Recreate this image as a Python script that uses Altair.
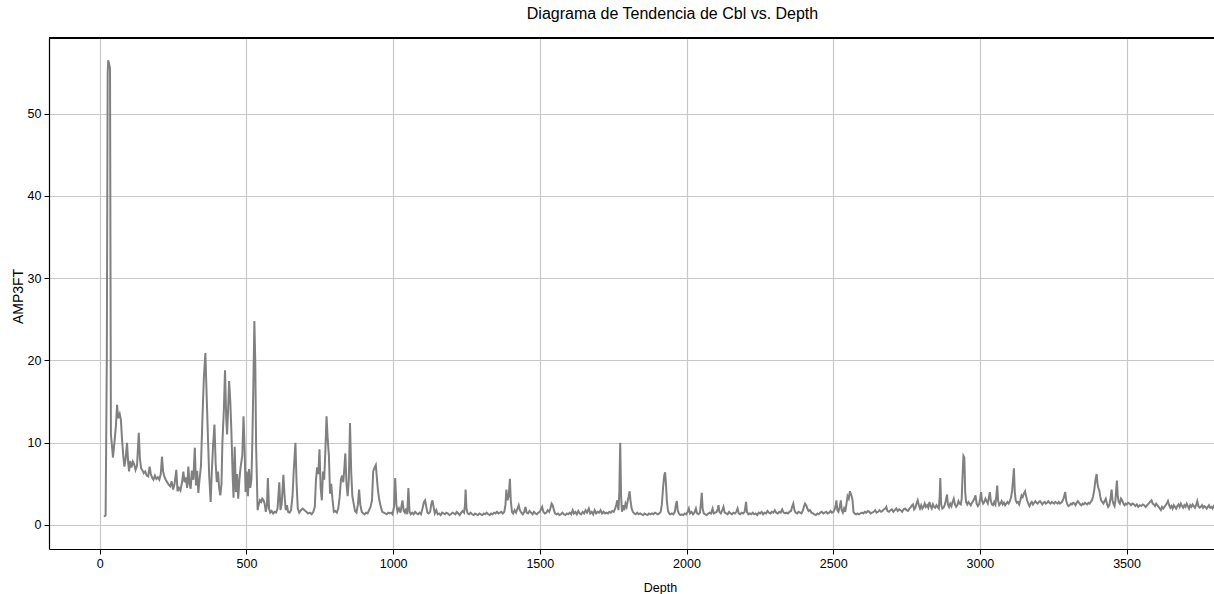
import altair as alt
import pandas as pd

# (Depth, AMP3FT) readings, grouped by depth interval
seg_a = [(15,1.0),(20,1.2),(24,20),(27,55),(29,56.5),(32,56),(35,55.5),(38,11),(42,9.5),(45,8.2),(50,10),(55,12),(59,14.6),(63,13),(68,13.5),(72,12.8),(76,10.4),(80,8.5),(84,7.1),(88,8.0),(93,10),(97,7.5),(100,6.5),(104,7.8),(108,7.0),(113,7.7),(118,7.3),(122,6.7),(127,7.2),(133,11.2),(137,8.0),(141,6.9),(146,6.6),(150,6.3),(155,6.5),(160,6.0),(165,5.9),(170,7.1),(174,6.2),(178,5.8),(183,5.5),(188,6.0),(193,5.6),(198,5.8),(203,5.5),(208,6.2),(212,8.3),(216,6.5),(220,5.9),(225,5.5),(230,5.2),(235,4.9),(240,4.7),(245,5.3),(250,4.3),(255,5.0),(261,6.7),(265,4.1),(270,4.5),(275,4.2),(280,5.1),(285,6.5),(289,5.2),(293,5.8),(298,4.5),(302,7.1),(306,5.0),(310,4.4),(314,6.6),(319,5.5),(324,9.4),(328,4.8),(332,6.6),(336,3.9),(340,5.5),(345,7.2),(350,13),(355,18),(360,20.9),(365,15),(369,10.4),(373,6),(378,2.8),(382,6.5),(386,9.5),(391,12.2),(395,7.5),(399,5.2),(403,6.5),(407,4.5),(411,3.6),(415,5),(418,10),(423,14),(427,18.8),(431,13),(434,11),(438,14.5),(441,17.5),(445,15),(449,11),(453,6),(456,3.3),(460,9.5),(464,4.0),(468,6.2),(472,3.2),(476,5.5),(480,7.0),(486,8.5),(490,13.2),(494,9),(497,4.0),(501,6.5),(505,3.5),(509,6.8),(513,4.5),(517,5.5),(520,10),(524,18),(527,24.8),(530,20),(533,9.5),(536,5)]
seg_b = [(538,1.8),(542,2.5),(546,3.0),(550,2.8),(554,3.2),(558,3.0),(562,2.6),(566,1.6),(570,2.4),(573,5.7),(577,2.0),(581,1.5),(586,1.7),(591,1.4),(596,1.6),(601,1.5),(606,2.0),(612,5.2),(616,1.8),(620,2.5),(626,6.1),(630,3.5),(634,1.8),(638,2.4),(642,1.6),(647,1.5),(652,1.8),(657,3.5),(661,6.5),(667,10.0),(671,5.0),(675,2.0),(680,1.5),(686,1.8),(692,2.0),(698,1.8),(704,1.6),(710,1.4),(716,1.5),(722,1.3),(728,1.6),(733,2.2),(737,5.5),(741,7.0),(745,6.2),(749,9.2),(753,4.5),(757,3.0),(761,6.5),(765,5.5),(769,9),(773,13.2),(777,10.4),(781,8.5),(785,3.8),(789,5.0),(793,3.2),(798,1.6),(803,1.7),(808,1.5),(813,2.0),(818,3.5),(822,5.5),(826,6.0),(830,5.2),(834,7.0),(837,8.7),(841,5.0),(845,3.5),(849,5.5),(853,12.4),(857,6.5),(861,3.5),(866,2.5),(870,1.7),(875,1.5),(880,2.5),(884,4.3),(888,2.5),(893,1.6),(898,1.4),(903,1.3),(908,1.5),(913,1.4),(918,1.8),(923,2.2),(928,3.0),(932,6.5),(937,7.0),(941,7.3),(945,5.5),(949,4.0),(953,3.0),(958,2.2),(963,1.6),(968,1.5),(973,1.4),(978,1.3),(983,1.5),(988,1.4),(993,1.5),(998,1.3),(1003,2.2),(1007,5.7),(1011,2.5),(1015,1.6),(1020,2.0),(1025,1.5),(1029,2.4),(1032,3.0),(1036,1.7),(1040,1.5),(1044,2.0),(1048,1.3),(1052,4.5),(1056,1.6),(1060,1.3)]
seg_c = [(1065,1.5),(1070,1.3),(1075,1.6),(1080,1.4),(1085,1.3),(1090,1.5),(1095,1.3),(1100,2.0),(1105,2.8),(1109,3.0),(1113,2.2),(1117,1.5),(1121,1.4),(1126,1.6),(1130,2.5),(1134,3.0),(1138,2.2),(1142,1.4),(1147,1.8),(1152,1.3),(1157,1.4),(1162,1.2),(1167,1.5),(1172,1.4),(1177,1.3),(1182,1.5),(1187,1.4),(1192,1.2),(1197,1.3),(1202,1.5),(1207,1.4),(1212,1.3),(1217,1.6),(1222,1.4),(1227,1.2),(1232,1.5),(1237,1.7),(1242,1.5),(1245,2.5),(1247,4.3),(1250,2.0),(1254,1.4),(1259,1.3),(1264,1.5),(1269,1.3),(1274,1.2),(1279,1.4),(1284,1.3),(1289,1.2),(1294,1.4),(1299,1.3),(1304,1.2),(1309,1.4),(1314,1.3),(1319,1.5),(1324,1.3),(1329,1.2),(1334,1.4),(1339,1.3),(1344,1.5),(1349,1.4),(1354,1.6),(1359,1.4),(1364,1.5),(1369,1.6),(1374,1.4),(1379,1.6),(1383,2.5),(1386,4.3),(1390,3.0),(1394,3.5),(1398,5.6),(1401,3.0),(1405,1.6),(1409,1.4),(1414,1.8),(1419,1.5),(1424,2.0),(1428,2.4),(1432,1.8),(1437,1.5),(1442,1.3),(1447,1.6),(1451,2.2),(1455,1.5),(1460,1.4),(1465,1.7),(1470,1.5),(1475,1.3),(1480,1.6),(1485,1.4),(1490,1.3),(1495,1.5),(1500,1.6),(1505,2.0),(1508,2.2),(1512,1.6),(1517,1.4),(1522,1.5),(1527,1.8),(1532,1.6),(1536,2.0),(1540,2.6),(1544,2.4),(1548,1.8),(1552,1.4),(1557,1.3),(1562,1.4),(1567,1.2),(1572,1.3),(1577,1.5),(1582,1.3),(1587,1.2),(1592,1.4),(1597,1.3),(1602,1.5),(1607,1.3),(1612,1.8),(1616,1.4),(1621,1.6),(1626,1.3),(1631,1.7),(1636,1.4),(1641,1.3),(1646,1.6),(1651,1.4),(1656,1.8),(1661,1.5),(1667,2.0),(1672,1.4),(1677,1.6),(1682,1.3),(1687,1.8),(1692,1.4),(1697,1.6),(1702,1.5),(1707,1.8),(1712,1.4),(1717,1.6),(1722,1.4),(1727,1.5),(1732,1.4),(1737,1.6),(1742,1.5),(1747,1.7),(1752,1.6),(1757,2.0),(1761,2.5),(1764,3.0),(1768,1.8),(1771,4),(1774,10.0),(1777,3.5),(1780,1.6),(1784,2.4),(1788,1.8),(1792,2.6),(1796,2.2),(1800,3.0),(1803,3.5),(1806,4.1),(1809,3.0),(1813,2.0),(1817,1.6)]
seg_d = [(1822,1.4),(1827,1.3),(1832,1.5),(1837,1.3),(1842,1.4),(1847,1.3),(1852,1.2),(1857,1.4),(1862,1.3),(1867,1.2),(1872,1.4),(1877,1.3),(1882,1.4),(1887,1.3),(1892,1.5),(1897,1.4),(1902,1.3),(1907,1.4),(1912,1.6),(1916,2.5),(1920,4.5),(1924,6.0),(1927,6.4),(1930,5.0),(1933,3.0),(1937,1.7),(1941,1.4),(1945,1.3),(1950,1.4),(1955,1.3),(1960,1.6),(1964,2.5),(1967,2.9),(1970,1.8),(1974,1.4),(1979,1.2),(1984,1.3),(1989,1.2),(1994,1.4),(1999,1.3),(2004,1.6),(2008,2.0),(2012,1.4),(2017,1.6),(2022,1.3),(2027,1.5),(2032,2.0),(2036,1.4),(2041,1.3),(2046,1.5),(2050,3.0),(2052,3.9),(2055,2.0),(2059,1.4),(2064,1.3),(2069,1.2),(2074,1.4),(2079,1.5),(2084,1.4),(2089,2.0),(2093,1.4),(2098,1.5),(2103,1.6),(2107,2.0),(2109,2.4),(2112,1.6),(2117,1.4),(2122,1.8),(2126,2.2),(2130,1.5),(2135,1.4),(2140,1.3),(2145,1.6),(2150,1.4),(2155,1.3),(2160,1.5),(2165,1.4),(2170,1.6),(2174,2.0),(2178,1.4),(2183,1.3),(2188,1.5),(2193,1.4),(2198,1.6),(2201,2.3),(2203,2.8),(2206,1.6),(2211,1.3),(2216,1.4),(2221,1.3),(2226,1.5),(2231,1.3),(2236,1.4),(2241,1.2),(2246,1.5),(2251,1.4),(2256,1.6),(2261,1.3),(2266,1.5),(2271,1.4),(2276,1.7),(2281,1.5),(2286,1.4),(2291,1.6),(2296,1.5),(2301,1.8),(2306,1.5),(2311,1.4),(2316,1.6),(2321,1.5),(2326,1.9),(2331,1.5),(2336,1.4),(2341,1.5),(2346,1.4),(2351,1.6),(2356,1.7),(2360,2.2),(2364,2.6),(2368,1.8),(2372,1.5),(2377,1.4),(2382,1.6),(2387,1.5),(2392,1.4),(2397,1.8),(2401,2.3),(2404,2.6),(2408,2.4),(2412,2.0),(2416,1.7),(2421,1.8),(2426,1.5),(2431,1.4),(2436,1.3),(2441,1.2),(2446,1.4),(2451,1.3),(2456,1.5),(2461,1.6),(2466,1.4),(2471,1.5),(2476,1.6),(2481,1.4),(2486,1.5),(2491,1.7),(2496,1.5),(2501,1.6),(2506,2.0),(2509,2.5),(2511,3.0),(2514,1.8),(2518,1.6),(2522,2.2),(2526,3.0),(2529,1.8),(2533,1.5),(2537,2.0),(2541,1.6),(2545,2.5),(2549,3.5),(2553,3.2),(2557,4.1),(2560,3.8),(2563,3.5),(2566,3.0),(2569,1.6)]
seg_e = [(2573,1.4),(2578,1.3),(2583,1.4),(2588,1.3),(2593,1.4),(2598,1.5),(2603,1.4),(2608,1.6),(2613,1.5),(2618,1.7),(2623,1.6),(2628,1.4),(2633,1.5),(2638,1.6),(2643,1.8),(2648,1.5),(2653,1.6),(2658,1.8),(2663,1.6),(2668,1.7),(2673,1.9),(2678,2.0),(2681,2.2),(2685,1.7),(2690,1.6),(2695,1.8),(2700,1.9),(2705,1.6),(2710,1.8),(2715,2.0),(2720,1.7),(2725,1.9),(2730,1.8),(2735,1.6),(2740,1.9),(2745,2.0),(2750,1.8),(2755,1.7),(2760,2.0),(2765,2.2),(2769,2.4),(2772,2.5),(2776,1.9),(2780,2.1),(2784,2.6),(2788,3.0),(2792,2.4),(2796,2.0),(2800,2.4),(2804,2.0),(2808,2.2),(2812,2.6),(2816,2.2),(2820,2.4),(2824,2.1),(2828,2.8),(2832,2.3),(2836,2.0),(2840,2.5),(2844,2.2),(2848,2.1),(2852,2.4),(2856,2.2),(2860,2.0),(2863,3.5),(2865,5.7),(2868,2.5),(2872,2.0),(2876,2.1),(2880,2.4),(2884,3.0),(2888,3.7),(2891,2.5),(2895,2.2),(2899,2.6),(2903,2.3),(2907,2.8),(2911,3.2),(2915,2.5),(2919,2.2),(2923,2.4),(2927,2.9),(2931,2.6),(2935,2.5),(2938,3.2),(2941,6.0),(2944,8.4),(2947,8.2),(2950,4.0),(2953,2.8),(2957,2.5),(2961,2.8),(2965,2.6),(2969,2.4),(2973,2.7),(2977,2.9),(2981,3.2),(2985,3.6),(2989,2.6),(2993,2.3),(2997,2.5),(3001,3.2),(3004,4.0),(3007,3.0),(3011,2.6),(3015,2.8),(3019,3.2),(3023,2.9),(3027,2.6),(3031,3.4),(3034,4.0),(3037,3.0),(3041,2.5),(3045,2.4),(3049,2.8),(3053,2.5),(3056,3.5),(3059,4.8),(3062,3.0),(3066,2.4),(3070,2.6),(3074,2.9),(3078,2.5),(3082,2.7),(3086,2.4),(3090,2.6),(3094,2.8),(3098,2.6),(3102,2.9),(3106,3.3),(3110,4.2),(3113,5.5),(3116,6.9),(3119,4.0),(3122,3.0),(3126,2.7),(3130,2.8),(3134,2.5),(3138,3.0),(3142,3.6),(3146,3.4),(3150,3.8),(3154,4.1),(3157,3.6),(3161,3.0),(3165,2.6),(3169,2.3)]
seg_f = [(3173,2.6),(3177,2.8),(3181,2.5),(3185,2.7),(3189,2.9),(3193,2.7),(3197,2.6),(3201,2.8),(3205,2.9),(3209,2.7),(3213,2.5),(3217,2.7),(3221,2.8),(3225,2.6),(3229,2.7),(3233,2.9),(3237,2.7),(3241,2.6),(3245,2.8),(3249,2.7),(3253,2.6),(3257,2.8),(3261,2.7),(3265,2.6),(3269,2.8),(3273,2.6),(3277,2.7),(3281,2.9),(3285,3.2),(3288,3.6),(3291,4.0),(3294,3.0),(3298,2.5),(3302,2.3),(3306,2.4),(3310,2.6),(3314,2.5),(3318,2.7),(3322,2.6),(3326,2.4),(3330,2.7),(3334,2.9),(3338,2.7),(3342,2.5),(3346,2.4),(3350,2.6),(3354,2.5),(3358,2.7),(3362,2.6),(3366,2.5),(3370,2.7),(3374,2.6),(3378,2.8),(3382,3.0),(3386,3.5),(3390,4.3),(3394,5.5),(3398,6.2),(3401,5.0),(3404,4.5),(3407,4.2),(3410,3.5),(3413,3.0),(3417,2.8),(3421,2.6),(3425,2.9),(3429,3.2),(3433,2.6),(3437,2.2),(3441,2.4),(3445,3.2),(3449,4.3),(3452,3.0),(3455,2.6),(3459,2.3),(3462,3.0),(3465,4.5),(3467,5.4),(3470,3.5),(3473,2.8),(3477,2.6),(3481,3.2),(3485,3.0),(3489,2.6),(3493,2.4),(3497,2.6),(3501,2.5),(3505,2.7),(3510,2.6),(3515,2.4),(3520,2.6),(3525,2.5),(3530,2.3),(3535,2.5),(3540,2.2),(3545,2.4),(3550,2.3),(3555,2.5),(3560,2.4),(3565,2.2),(3570,2.4),(3575,2.6),(3580,2.8),(3585,3.0),(3589,2.6),(3593,2.5),(3597,2.3),(3601,2.6),(3605,2.4),(3609,2.2),(3613,2.0),(3617,1.8),(3621,2.2),(3625,2.0),(3629,2.2),(3633,2.4),(3637,2.6),(3641,2.9),(3645,2.4),(3649,2.1),(3653,2.3),(3657,2.0),(3661,2.4),(3665,2.2),(3669,2.0),(3673,2.3),(3677,2.5),(3681,2.2),(3685,2.6),(3689,2.3),(3693,2.1),(3697,2.4),(3701,2.2),(3705,2.6),(3709,2.3),(3713,2.0),(3717,2.4),(3721,2.2),(3725,2.5),(3729,2.3),(3733,2.1),(3737,2.4),(3741,2.9),(3745,2.3),(3749,2.1),(3753,2.2),(3757,2.4),(3761,2.1),(3765,2.3),(3769,2.2),(3773,2.0),(3777,2.2),(3781,2.4),(3785,2.1),(3789,2.2),(3793,2.0),(3797,2.3),(3801,2.5)]

x_ticks = [0, 500, 1000, 1500, 2000, 2500, 3000, 3500]
y_ticks = [0, 10, 20, 30, 40, 50]

rows = seg_a + seg_b + seg_c + seg_d + seg_e + seg_f
df = pd.DataFrame(rows, columns=["Depth", "AMP3FT"])

FONT = "Liberation Sans"
W, H = 1165, 511

line = alt.Chart(df).mark_line(color="#808080", strokeWidth=2, clip=True).encode(
    x=alt.X("Depth:Q",
            scale=alt.Scale(domain=[-173, 3798], nice=False, zero=False),
            axis=alt.Axis(values=x_ticks, title="Depth", format="d",
                          titleX=611, titleY=32, titleBaseline="top", titleAlign="center",
                          titleFont=FONT, titleFontSize=12.5, titleFontWeight="normal",
                          titleColor="#000000")),
    y=alt.Y("AMP3FT:Q",
            scale=alt.Scale(domain=[-2.92, 59.2], nice=False, zero=False),
            axis=alt.Axis(values=y_ticks, title="AMP3FT",
                          titleX=-31, titleY=258, titleAngle=270, titleAlign="center",
                          titleBaseline="middle", titleFont=FONT,
                          titleFontSize=14, titleFontWeight="normal", titleColor="#000000")),
)

top_border = alt.Chart(df).mark_rule(color="#000000", strokeWidth=1.2).encode(
    x=alt.value(0), x2=alt.value(W), y=alt.value(0)
)

chart = alt.layer(line, top_border).properties(
    width=W, height=H,
    padding={"left": 49, "top": 38, "right": 0, "bottom": 45},
    autosize=alt.AutoSizeParams(type="none"),
    background="white",
    title=alt.TitleParams("Diagrama de Tendencia de Cbl vs. Depth", anchor="middle",
                          dx=41, offset=15, font=FONT, fontSize=16,
                          fontWeight="normal", color="#000000"),
).configure_view(strokeWidth=0).configure_axis(
    grid=True, gridColor="#c8c8c8", gridWidth=1.2,
    domainColor="#000000", domainWidth=1.2,
    tickColor="#000000", tickSize=5, tickWidth=1,
    labelFont=FONT, labelFontSize=12.5, labelColor="#000000", labelPadding=3,
)

chart.save("out.html", embed_options={"renderer": "svg", "actions": False})
